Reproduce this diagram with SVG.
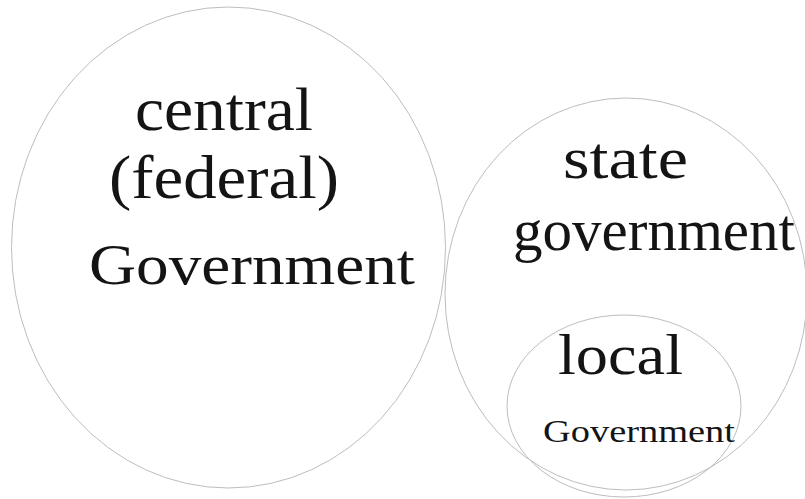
<svg xmlns="http://www.w3.org/2000/svg" width="805" height="499" viewBox="0 0 805 499">
<style>
.shape{fill:none;stroke:#bdbdbd;stroke-width:1}
.t{font-family:"Liberation Serif","Times New Roman",serif;fill:#141414}
</style>
<rect width="805" height="499" fill="#ffffff"/>
<g id="central">
<ellipse class="shape" cx="228.5" cy="247.5" rx="217" ry="240.5"/>
<text class="t" x="135" y="130" font-size="62" textLength="178" lengthAdjust="spacingAndGlyphs">central</text>
<text class="t" x="109" y="198" font-size="62" textLength="230" lengthAdjust="spacingAndGlyphs">(federal)</text>
<text class="t" x="89" y="284" font-size="58" textLength="326" lengthAdjust="spacingAndGlyphs">Government</text>
</g>
<g id="state">
<ellipse class="shape" cx="626" cy="294" rx="181" ry="196"/>
<text class="t" x="563" y="178" font-size="59" textLength="125" lengthAdjust="spacingAndGlyphs">state</text>
<text class="t" x="513" y="250" font-size="60" textLength="282" lengthAdjust="spacingAndGlyphs">government</text>
</g>
<g id="local">
<ellipse class="shape" cx="624" cy="406" rx="117" ry="91"/>
<text class="t" x="558" y="374" font-size="58" textLength="125" lengthAdjust="spacingAndGlyphs">local</text>
<text class="t" x="543" y="442" font-size="31" textLength="192" lengthAdjust="spacingAndGlyphs">Government</text>
</g>
<g id="connectors"></g>
</svg>
